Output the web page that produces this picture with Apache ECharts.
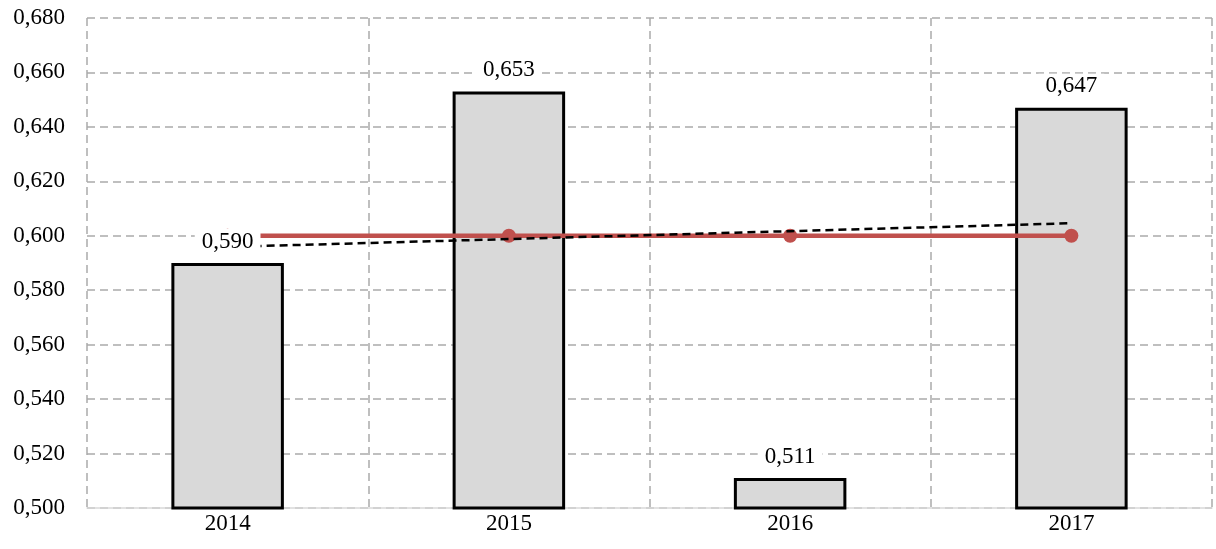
<!DOCTYPE html>
<html>
<head>
<meta charset="utf-8">
<script src="https://cdn.jsdelivr.net/npm/echarts@6/dist/echarts.min.js"></script>
<style>
	html, body { margin: 0; padding: 0; background: #fff; }
	#chart { width: 1216px; height: 549px; }
</style>
</head>
<body>
<div id="chart"></div>
<script>
	// data
	const years = ['2014', '2015', '2016', '2017']
	const values = [0.590, 0.653, 0.511, 0.647]
	const level = [0.600, 0.600, 0.600, 0.600]
	const trend = [0.5959, 0.5988, 0.6017, 0.6046]

	const fmt = v => v.toFixed(3).replace('.', ',')
	const font = 'Liberation Serif'

	const chart = echarts.init(document.getElementById('chart'))
	const option = {
		animation: false,
		grid: { left: 87, right: 4, top: 18, bottom: 41 },
		xAxis: {
			type: 'category',
			data: years,
			axisLine: { lineStyle: { color: '#d9d9d9', width: 1.5 } },
			axisTick: { show: false },
			axisLabel: { color: '#000', fontFamily: font, fontSize: 23, margin: 4 },
			splitLine: {
				show: true,
				lineStyle: { color: '#aaa', width: 1.5, type: [8, 5] }
			}
		},
		yAxis: {
			type: 'value',
			min: 0.5,
			max: 0.68,
			interval: 0.02,
			axisLine: { show: false },
			axisTick: { show: false },
			axisLabel: {
				color: '#000', fontFamily: font, fontSize: 23, margin: 22,
				formatter: fmt
			},
			splitLine: { lineStyle: { color: '#aaa', width: 1.5, type: [8, 5] } }
		},
		series: [{
			// bars
			type: 'bar',
			data: values,
			barWidth: '40%',
			z: 2,
			itemStyle: { color: '#d9d9d9', borderColor: '#000', borderWidth: 3 }
		}, {
			// level line
			type: 'line',
			data: level,
			z: 3,
			symbol: 'circle',
			symbolSize: 14,
			lineStyle: { color: '#c0504d', width: 4.5 },
			itemStyle: { color: '#c0504d' }
		}, {
			// linear trend
			type: 'line',
			data: trend,
			z: 4,
			symbol: 'none',
			lineStyle: { color: '#000', width: 2.5, type: [8, 5] }
		}, {
			// value labels, on top of the lines
			type: 'scatter',
			data: values,
			zlevel: 1,
			symbolSize: 0,
			silent: true,
			itemStyle: { opacity: 1 },
			label: {
				show: true,
				position: 'top',
				distance: 9,
				formatter: p => fmt(p.value),
				color: '#000',
				fontFamily: font,
				fontSize: 23,
				backgroundColor: '#fff',
				padding: [1, 7]
			}
		}]
	}
	chart.setOption(option)
</script>
</body>
</html>
